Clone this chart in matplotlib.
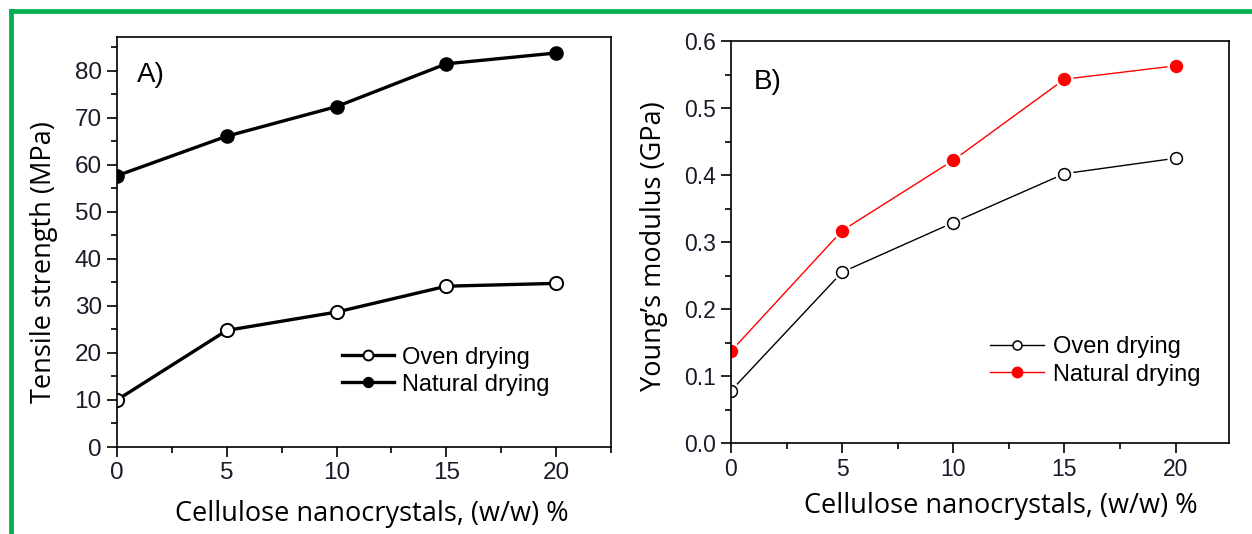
import matplotlib
matplotlib.use("Agg")
import matplotlib.pyplot as plt
from matplotlib.ticker import MultipleLocator
from matplotlib.lines import Line2D

# CNC loading, % (w/w)
cnc = [0, 5, 10, 15, 20]

# A) tensile strength, MPa
ts_oven = [10.0, 24.8, 28.7, 34.2, 34.8]
ts_natural = [57.7, 66.1, 72.4, 81.5, 83.8]

# B) Young's modulus, GPa
ym_oven = [0.078, 0.255, 0.329, 0.402, 0.425]
ym_natural = [0.137, 0.317, 0.422, 0.543, 0.563]

labels = ["Oven drying", "Natural drying"]
xlab = "Cellulose nanocrystals, (w/w) %"

tick_font = "Liberation Sans"
label_font = "Open Sans"

fig = plt.figure(figsize=(12.52, 5.34), dpi=100)

# green frame (top and left edges only are visible)
green = "#00b050"
fig.add_artist(Line2D([0.0088, 1.0], [0.979, 0.979], transform=fig.transFigure,
                      color=green, lw=3.4))
fig.add_artist(Line2D([0.0088, 0.0088], [0.0, 0.979], transform=fig.transFigure,
                      color=green, lw=3.4))


def style_axes(ax, tick_size):
    for sp in ax.spines.values():
        sp.set_linewidth(1.2)
        sp.set_color("black")
    ax.tick_params(which="both", direction="out", top=False, right=False,
                   width=1.2, colors="black")
    ax.tick_params(which="major", length=7, labelsize=tick_size, pad=4)
    ax.tick_params(which="minor", length=4.5)
    for t in ax.get_xticklabels() + ax.get_yticklabels():
        t.set_fontfamily(tick_font)
        t.set_color("#1a1a2a")


# ---------- panel A ----------
ax1 = fig.add_axes([117 / 1252, 1 - 447 / 534, 494 / 1252, 410 / 534])
ax1.plot(cnc, ts_oven, "-o", color="black", lw=2.4, ms=9.5, mfc="white",
         mec="black", mew=1.4, label=labels[0])
ax1.plot(cnc, ts_natural, "-o", color="black", lw=2.4, ms=9.5, mfc="black",
         mec="black", label=labels[1])
ax1.set_xlim(0, 22.5)
ax1.set_ylim(0, 87.2)
ax1.xaxis.set_major_locator(MultipleLocator(5))
ax1.xaxis.set_minor_locator(MultipleLocator(2.5))
ax1.yaxis.set_major_locator(MultipleLocator(10))
ax1.yaxis.set_minor_locator(MultipleLocator(5))
style_axes(ax1, 17.5)
ax1.set_xlabel(xlab, family=label_font, fontsize=19.5)
ax1.xaxis.set_label_coords(0.516, -0.13)
ax1.set_ylabel("Tensile strength (MPa)", family=label_font, fontsize=19.5)
ax1.yaxis.set_label_coords(-0.12, 0.45)
ax1.text(0.04, 0.94, "A)", transform=ax1.transAxes, family=tick_font,
         fontsize=20, va="top", ha="left")
ax1.legend(loc="upper left", bbox_to_anchor=(0.455, 0.245), frameon=False,
           prop={"family": tick_font, "size": 17}, handlelength=2.2,
           handletextpad=0.35, labelspacing=0.22, borderpad=0,
           borderaxespad=0, markerscale=0.75)

# ---------- panel B ----------
ax2 = fig.add_axes([731 / 1252, 1 - 443 / 534, 498 / 1252, 402 / 534])
for ys, col, face in [(ym_oven, "black", "white"), (ym_natural, "red", "red")]:
    ax2.plot(cnc, ys, "-", color=col, lw=1.0, zorder=2)
    # white halo leaves a small gap between the line and each marker
    ax2.plot(cnc, ys, "o", color="white", ms=13, mew=0, zorder=2.1)
    ax2.plot(cnc, ys, "o", color=col, ms=8.5, mfc=face, mec=col, mew=1.1,
             zorder=2.2)
ax2.set_xlim(0, 22.4)
ax2.set_ylim(0, 0.6)
ax2.xaxis.set_major_locator(MultipleLocator(5))
ax2.xaxis.set_minor_locator(MultipleLocator(2.5))
ax2.yaxis.set_major_locator(MultipleLocator(0.1))
ax2.yaxis.set_minor_locator(MultipleLocator(0.05))
ax2.yaxis.set_major_formatter(matplotlib.ticker.FormatStrFormatter("%.1f"))
style_axes(ax2, 16.5)
ax2.set_xlabel(xlab, family=label_font, fontsize=19.5)
ax2.xaxis.set_label_coords(0.542, -0.122)
ax2.set_ylabel("Young\u2019s modulus (GPa)", family=label_font, fontsize=19.5)
ax2.yaxis.set_label_coords(-0.127, 0.49)
ax2.text(0.045, 0.93, "B)", transform=ax2.transAxes, family=tick_font,
         fontsize=20, va="top", ha="left")
handles = [Line2D([], [], color="black", lw=1.0, marker="o", ms=6.5, mfc="white",
                  mec="black", mew=1.1),
           Line2D([], [], color="red", lw=1.0, marker="o", ms=7.5, mfc="red",
                  mec="red")]
ax2.legend(handles, labels, loc="upper left", bbox_to_anchor=(0.52, 0.265),
           frameon=False, prop={"family": tick_font, "size": 17},
           handlelength=2.3, handletextpad=0.35, labelspacing=0.22,
           borderpad=0, borderaxespad=0)

fig.savefig("out.png", dpi=100)
